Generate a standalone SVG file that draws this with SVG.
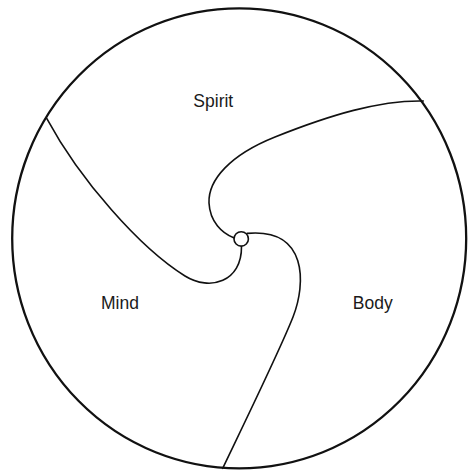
<svg xmlns="http://www.w3.org/2000/svg" width="468" height="471" viewBox="0 0 468 471">
  <style>
    .edge { fill: none; stroke: #111; stroke-width: 1.6; stroke-linecap: round; }
    .outline { fill: none; stroke: #111; stroke-width: 2.3; }
    .hub { fill: #fff; stroke: #111; stroke-width: 1.6; }
    .label { font-family: "Liberation Sans", Arial, sans-serif; font-size: 17.5px; fill: #1a1a1a; text-anchor: middle; }
  </style>
  <rect width="468" height="471" fill="#fff"/>
  <g id="boundary">
    <ellipse class="outline" cx="239.2" cy="238.4" rx="227" ry="230"/>
  </g>
  <g id="connectors">
    <path class="edge" d="M423.3,101 C 380,100 330,115 275,137 C 230,155 208,180 209,203 C 210,222 222,233 233.7,237.8"/>
    <path class="edge" d="M46.7,118.3 C 80,180 140,248 185,276 C 210,291.5 242,282 241.5,246.3"/>
    <path class="edge" d="M222.7,468.3 C 240,432 280,350 293,317 C 306,284 308,228 247.2,233.4"/>
  </g>
  <g id="hub">
    <circle class="hub" cx="241.2" cy="238.9" r="7.2"/>
  </g>
  <g id="spirit">
    <text class="label" x="213.3" y="106.6">Spirit</text>
  </g>
  <g id="mind">
    <text class="label" x="120" y="309">Mind</text>
  </g>
  <g id="body">
    <text class="label" x="372.7" y="309">Body</text>
  </g>
</svg>
